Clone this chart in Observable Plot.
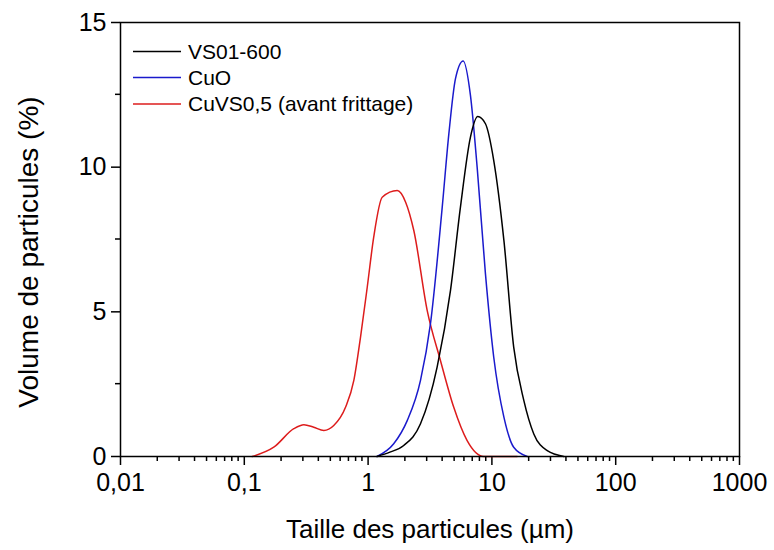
<!DOCTYPE html>
<html><head><meta charset="utf-8">
<script src="https://cdn.jsdelivr.net/npm/d3@7"></script>
<script src="https://cdn.jsdelivr.net/npm/@observablehq/plot@0.6"></script>
<style>body{margin:0;background:#fff} svg{font-family:"Liberation Sans",Arial,sans-serif}</style>
</head><body><div id="chart"></div>
<script>
// Particle size (µm) and volume (%) per series
const seriesNames = ["VS01-600", "CuO", "CuVS0,5 (avant frittage)"];
const seriesColors = ["#000000", "#1a1acc", "#dd1c1c"];

const vsSize = [1.18, 1.5, 1.94, 2.65, 3.61, 4.63, 5.57, 6.71, 7.69, 8.87, 10.35, 12.5, 15.0, 18.1, 21.8, 28.0, 38.1];
const vsVol  = [0, 0.15, 0.38, 1.13, 3.09, 5.74, 8.62, 11.04, 11.75, 11.5, 10.23, 7.47, 3.78, 1.94, 0.78, 0.2, 0];

const cuoSize = [1.18, 1.61, 2.07, 2.65, 3.19, 3.97, 4.49, 5.08, 5.86, 6.71, 7.6, 8.87, 10.35, 12.5, 15.0, 19.3];
const cuoVol  = [0, 0.44, 1.24, 2.63, 4.59, 8.62, 11.15, 13.06, 13.67, 12.48, 10.0, 6.31, 3.43, 1.36, 0.32, 0];

const cuvsSize = [0.116, 0.173, 0.251, 0.303, 0.364, 0.439, 0.528, 0.657, 0.767, 0.868, 0.984, 1.11, 1.30, 1.72, 2.01, 2.34, 3.0, 3.84, 4.92, 6.31, 8.6, 12, 16];
const cuvsVol  = [0, 0.32, 0.96, 1.1, 1.01, 0.9, 1.07, 1.7, 2.63, 4.12, 5.85, 7.58, 8.96, 9.19, 8.79, 7.81, 5.05, 3.32, 1.7, 0.55, 0, 0, 0];

const xMajor = [0.01, 0.1, 1, 10, 100, 1000];
const xMinor = [];
for (let d = 0.01; d < 1000; d *= 10) for (let k = 2; k <= 9; k++) xMinor.push(+(d * k).toPrecision(3));
const yMajor = [0, 5, 10, 15];
const yMinor = [2.5, 7.5, 12.5];

const xLabel = "Taille des particules (µm)";
const yLabel = "Volume de particules (%)";

const toRows = (sizes, vols) => sizes.map((s, i) => ({size: s, vol: vols[i]}));
const data = [toRows(vsSize, vsVol), toRows(cuoSize, cuoVol), toRows(cuvsSize, cuvsVol)];

const svg = Plot.plot({
  width: 774, height: 550,
  marginTop: 22, marginRight: 35, marginBottom: 94, marginLeft: 120,
  style: {fontFamily: "Liberation Sans, Arial, sans-serif", color: "black", background: "white", overflow: "visible"},
  x: {type: "log", domain: [0.01, 1000]},
  y: {domain: [0, 15]},
  marks: [
    Plot.axisX(xMajor, {tickSize: 9, tickPadding: 8, fontSize: 25, label: null, strokeWidth: 1.5,
      tickFormat: d => String(d).replace(".", ",")}),
    Plot.axisY(yMajor, {tickSize: 9, tickPadding: 5, fontSize: 25, label: null, strokeWidth: 1.5}),
    ...[2, 1, 0].map(i => Plot.line(data[i], {x: "size", y: "vol", stroke: seriesColors[i], strokeWidth: 1.5, curve: "monotone-x"})),
    Plot.frame({stroke: "black", strokeWidth: 1.5})
  ]
});

const s = d3.select(svg);
const xs = svg.scale("x"), ys = svg.scale("y");
const x0 = xs.apply(0.01), y0 = ys.apply(0);
// minor ticks, positioned through Plot's own scales
const g = s.append("g").attr("stroke", "black").attr("stroke-width", 1.5);
xMinor.forEach(v => g.append("line").attr("x1", xs.apply(v)).attr("x2", xs.apply(v)).attr("y1", y0).attr("y2", y0 + 5));
yMinor.forEach(v => g.append("line").attr("y1", ys.apply(v)).attr("y2", ys.apply(v)).attr("x1", x0).attr("x2", x0 - 5));

s.append("text").attr("x", 430).attr("y", 538).attr("text-anchor", "middle")
  .attr("font-size", 26).attr("fill", "black").text(xLabel);
s.append("text").attr("transform", "translate(38,252) rotate(-90)").attr("text-anchor", "middle")
  .attr("font-size", 28).attr("fill", "black").text(yLabel);

const legendY = [51.5, 77.5, 104];
seriesNames.forEach((name, i) => {
  s.append("line").attr("x1", 133).attr("x2", 181).attr("y1", legendY[i]).attr("y2", legendY[i])
    .attr("stroke", seriesColors[i]).attr("stroke-width", 1.5);
  s.append("text").attr("x", 188).attr("y", legendY[i] + 7).attr("font-size", 21)
    .attr("text-anchor", "start").attr("fill", "black").text(name);
});

document.getElementById("chart").appendChild(svg);
</script>
</body></html>
